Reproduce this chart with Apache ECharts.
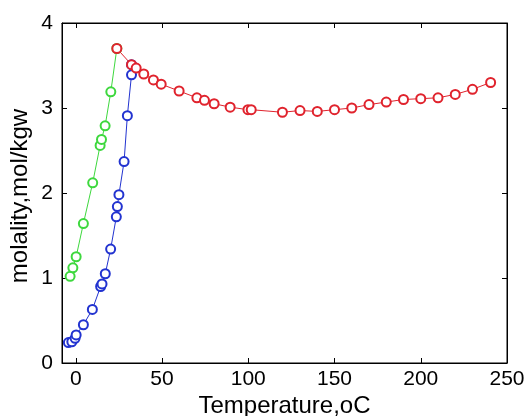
<!DOCTYPE html>
<html>
<head>
<meta charset="utf-8">
<script src="https://cdn.jsdelivr.net/npm/echarts@6/dist/echarts.min.js"></script>
<style>
  html, body { margin: 0; padding: 0; background: #fff; }
  #chart { width: 528px; height: 416px; }
</style>
</head>
<body>
<div id="chart"></div>
<script>
// Temperature (oC) and molality (mol/kgw) for each solubility branch
const greenTemp = [-3.3, -1.7, 0.2, 4.4, 9.8, 14.1, 14.9, 17.0, 20.3, 23.8];
const greenMol  = [1.02, 1.12, 1.25, 1.64, 2.12, 2.56, 2.63, 2.79, 3.19, 3.70];

const blueTemp = [-4.3, -2.3, -0.4, 0.2, 4.4, 9.6, 14.4, 15.2, 17.1, 20.2, 23.5, 24.1, 25.0, 28.0, 29.9, 32.3, 32.3];
const blueMol  = [0.24, 0.25, 0.29, 0.33, 0.45, 0.63, 0.90, 0.93, 1.05, 1.34, 1.72, 1.84, 1.98, 2.37, 2.91, 3.39, 3.51];

const redTemp = [23.8, 32.3, 35.0, 39.4, 45.0, 49.5, 59.9, 70.2, 74.6, 80.2, 89.5, 99.8, 101.7,
                 119.8, 130, 140, 150, 160, 170, 180, 190, 200, 210, 220, 230, 240.5];
const redMol  = [3.70, 3.51, 3.47, 3.40, 3.33, 3.28, 3.20, 3.12, 3.09, 3.05, 3.01, 2.98, 2.98,
                 2.95, 2.97, 2.96, 2.98, 3.00, 3.04, 3.07, 3.10, 3.11, 3.12, 3.16, 3.22, 3.30];

const xTicks = [0, 50, 100, 150, 200, 250];
const yTicks = [0, 1, 2, 3, 4];

const pairs = (xs, ys) => xs.map((x, i) => [x, ys[i]]);

const FONT = '"Liberation Sans", Arial, sans-serif';

function branch(name, color, xs, ys) {
  return {
    name: name,
    type: 'line',
    data: pairs(xs, ys),
    symbol: 'emptyCircle',
    symbolSize: 9,
    showSymbol: true,
    lineStyle: { color: color, width: 1 },
    itemStyle: { color: color, borderColor: color, borderWidth: 1 },
    animation: false,
    z: 3
  };
}

const chart = echarts.init(document.getElementById('chart'), null, { renderer: 'canvas' });

const tickStyle = { show: true, inside: true, length: 5, lineStyle: { color: '#000', width: 1 } };
const frameLine = { show: true, onZero: false, lineStyle: { color: '#000', width: 1 } };

chart.setOption({
  backgroundColor: '#fff',
  animation: false,
  grid: {
    left: 62, right: 21, top: 23, bottom: 53,
    outerBoundsMode: 'none', containLabel: false,
    show: true, borderColor: '#000', borderWidth: 1, backgroundColor: 'transparent'
  },
  xAxis: [
    {
      type: 'value', min: -8, max: 250, position: 'bottom',
      name: 'Temperature,oC', nameLocation: 'middle', nameGap: 31, nameMoveOverlap: false,
      nameTextStyle: { fontFamily: FONT, fontSize: 24, color: '#000' },
      axisLine: frameLine,
      axisTick: Object.assign({ customValues: xTicks }, tickStyle),
      axisLabel: { customValues: xTicks, fontFamily: FONT, fontSize: 21, color: '#000', margin: 6 },
      splitLine: { show: false }
    },
    {
      type: 'value', min: -8, max: 250, position: 'top',
      axisLine: frameLine,
      axisTick: Object.assign({ customValues: xTicks }, tickStyle),
      axisLabel: { show: false },
      splitLine: { show: false }
    }
  ],
  yAxis: [
    {
      type: 'value', min: 0, max: 4, interval: 1, position: 'left',
      name: 'molality,mol/kgw', nameLocation: 'middle', nameGap: 30, nameMoveOverlap: false,
      nameTextStyle: { fontFamily: FONT, fontSize: 24, color: '#000', padding: [0, 6, 0, 0] },
      axisLine: frameLine,
      axisTick: Object.assign({ customValues: yTicks }, tickStyle),
      axisLabel: { customValues: yTicks, fontFamily: FONT, fontSize: 21, color: '#000', margin: 9 },
      splitLine: { show: false }
    },
    {
      type: 'value', min: 0, max: 4, interval: 1, position: 'right',
      axisLine: frameLine,
      axisTick: Object.assign({ customValues: yTicks }, tickStyle),
      axisLabel: { show: false },
      splitLine: { show: false }
    }
  ],
  series: [
    branch('green', '#3ed83e', greenTemp, greenMol),
    branch('blue', '#2233d0', blueTemp, blueMol),
    branch('red', '#e0232d', redTemp, redMol)
  ]
});
</script>
</body>
</html>
